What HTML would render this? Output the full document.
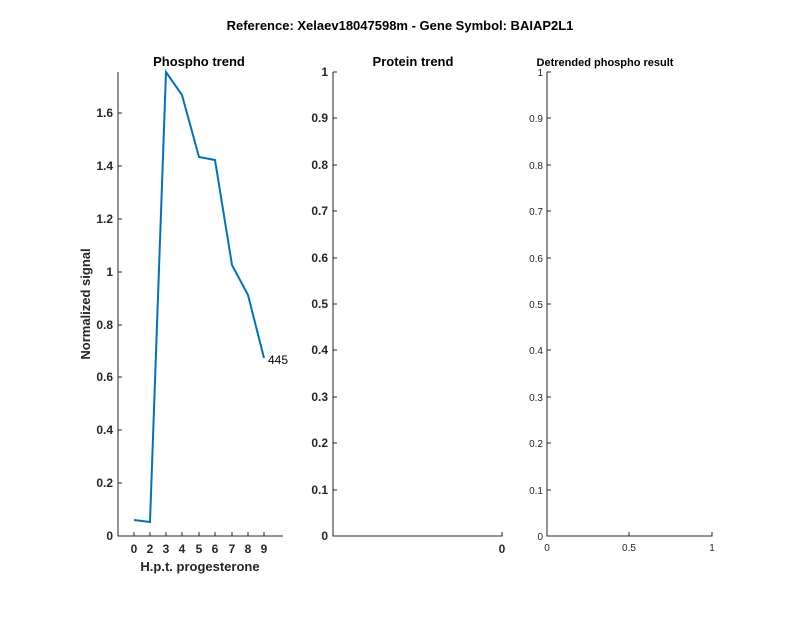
<!DOCTYPE html>
<html><head><style>body{margin:0;background:#fff}svg{display:block}</style></head><body>
<svg width="800" height="618" xmlns="http://www.w3.org/2000/svg" font-family="Liberation Sans, sans-serif">
<rect width="800" height="618" fill="#fff"/>
<text x="400" y="30" font-size="13" font-weight="bold" text-anchor="middle" fill="#000">Reference:  Xelaev18047598m - Gene Symbol:  BAIAP2L1</text>
<!-- Left -->
<g stroke="#262626" stroke-width="1" fill="none">
<path d="M118,72V536H283"/>
<path d="M118,536h4M118,483h4M118,430h4M118,377h4M118,325h4M118,272h4M118,219h4M118,166h4M118,113h4"/>
<path d="M134,536v-4M150,536v-4M166,536v-4M182,536v-4M199,536v-4M215,536v-4M232,536v-4M248,536v-4M264,536v-4"/>
</g>
<g font-size="12" font-weight="bold" fill="#262626" text-anchor="end">
<text x="113" y="540">0</text><text x="113" y="487">0.2</text><text x="113" y="434">0.4</text><text x="113" y="381">0.6</text><text x="113" y="329">0.8</text><text x="113" y="276">1</text><text x="113" y="223">1.2</text><text x="113" y="170">1.4</text><text x="113" y="117">1.6</text>
</g>
<g font-size="12" font-weight="bold" fill="#262626" text-anchor="middle">
<text x="134" y="553">0</text><text x="150" y="553">2</text><text x="166" y="553">3</text><text x="182" y="553">4</text><text x="199" y="553">5</text><text x="215" y="553">6</text><text x="232" y="553">7</text><text x="248" y="553">8</text><text x="264" y="553">9</text>
<text x="200" y="571" font-size="13">H.p.t. progesterone</text>
<text x="199" y="66" font-size="13" fill="#000">Phospho trend</text>
<text transform="translate(90,304) rotate(-90)" font-size="13">Normalized signal</text>
</g>
<polyline fill="none" stroke="#0072BD" stroke-width="2" points="134,520 150,522 166,72 182,95 199,157 215,160 232,265 248,295 264,358"/>
<text x="268" y="364" font-size="12" fill="#000">445</text>
<!-- Middle -->
<g stroke="#262626" stroke-width="1" fill="none">
<path d="M333,72V536H502v-4"/>
<path d="M333,536h4M333,490h4M333,443h4M333,397h4M333,350h4M333,304h4M333,258h4M333,211h4M333,165h4M333,118h4M333,72h4"/>
</g>
<g font-size="12" font-weight="bold" fill="#262626" text-anchor="end">
<text x="328" y="540">0</text><text x="328" y="494">0.1</text><text x="328" y="447">0.2</text><text x="328" y="401">0.3</text><text x="328" y="354">0.4</text><text x="328" y="308">0.5</text><text x="328" y="262">0.6</text><text x="328" y="215">0.7</text><text x="328" y="169">0.8</text><text x="328" y="122">0.9</text><text x="328" y="76">1</text>
</g>
<text x="502" y="553" font-size="12" font-weight="bold" fill="#262626" text-anchor="middle">0</text>
<text x="413" y="66" font-size="13" font-weight="bold" text-anchor="middle" fill="#000">Protein trend</text>
<!-- Right -->
<g stroke="#262626" stroke-width="1" fill="none">
<path d="M547,72V536H712v-4M629,536v-4"/>
<path d="M547,536h4M547,490h4M547,443h4M547,397h4M547,350h4M547,304h4M547,258h4M547,211h4M547,165h4M547,118h4M547,72h4"/>
</g>
<g font-size="10" fill="#262626" text-anchor="end">
<text x="543" y="540">0</text><text x="543" y="494">0.1</text><text x="543" y="447">0.2</text><text x="543" y="401">0.3</text><text x="543" y="354">0.4</text><text x="543" y="308">0.5</text><text x="543" y="262">0.6</text><text x="543" y="215">0.7</text><text x="543" y="169">0.8</text><text x="543" y="122">0.9</text><text x="543" y="76">1</text>
</g>
<g font-size="10" fill="#262626" text-anchor="middle">
<text x="547" y="551">0</text><text x="629" y="551">0.5</text><text x="712" y="551">1</text>
</g>
<text x="605" y="66" font-size="11" font-weight="bold" text-anchor="middle" fill="#000">Detrended phospho result</text>
</svg>
</body></html>
